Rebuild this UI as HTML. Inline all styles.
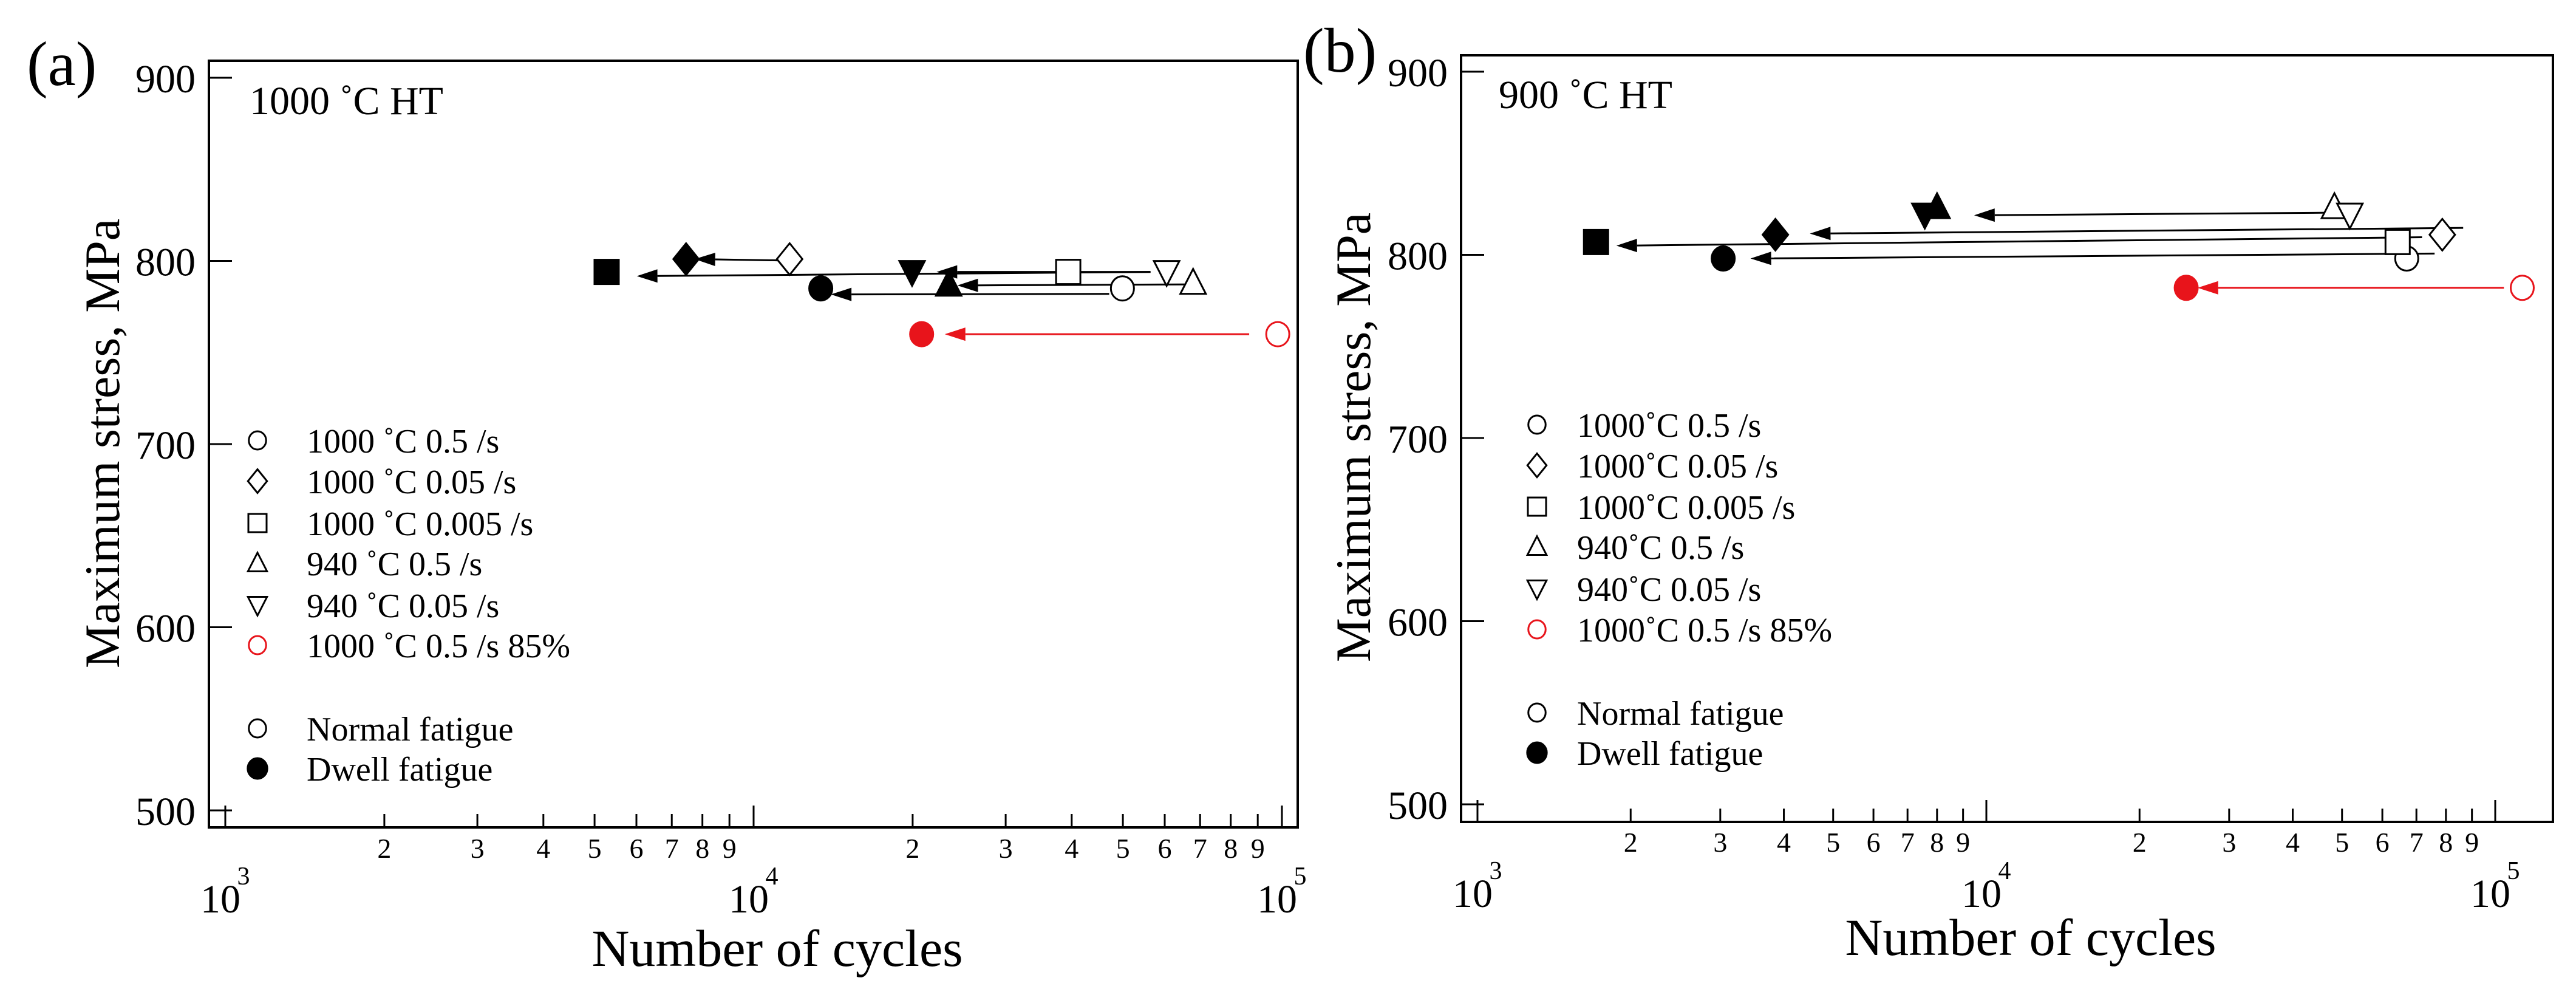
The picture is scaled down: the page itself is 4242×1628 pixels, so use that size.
<!DOCTYPE html>
<html><head><meta charset="utf-8"><style>
html,body{margin:0;padding:0;background:#fff;}
svg{display:block;font-family:"Liberation Serif","Times New Roman",serif;}
</style></head><body>
<svg id="fig" width="4242" height="1628" viewBox="0 0 4242 1628" xmlns="http://www.w3.org/2000/svg"></svg>
<script>
// ---- data (panel a: 1000 °C HT) ----
const seriesNames = ["1000C-0.5","1000C-0.05","1000C-0.005","940C-0.5","940C-0.05","1000C-0.5-85"];
const seriesShapes = ["circle","diamond","square","up","down","circle"];
const seriesColors = ["#000","#000","#000","#000","#000","#e8141b"];
const aNormalN = [49900, 11700, 39400, 67900, 60500, 98200];
const aNormalS = [785, 801, 794, 788, 794, 760];
const aDwellN = [13400, 7450, 5270, 23400, 19950, 20800];
const aDwellS = [785, 801, 794, 787, 794, 760];
const aArrowN1 = [47100, 11100, 56400, 67400, 56400, 86700];
const aArrowS1 = [782, 800.3, 794, 787.2, 794, 760];
const aArrowN2 = [14000, 7730, 6010, 24300, 22200, 23000];
const aArrowS2 = [781.7, 801, 791.7, 786.6, 794, 760];
// ---- data (panel b: 900 °C HT) ----
const bNormalN = [67000, 78700, 64300, 48300, 51800, 113000];
const bNormalS = [798, 811, 807, 826, 822, 782];
const bDwellN = [3040, 3850, 1710, 8000, 7570, 24700];
const bDwellS = [798, 811, 807, 826, 822, 782];
const bArrowN1 = [76000, 86500, 71800, 46900, 104000];
const bArrowS1 = [800.7, 814.7, 809.6, 823, 782];
const bArrowN2 = [3440, 4500, 1875, 9460, 26000];
const bArrowS2 = [798, 811.6, 805, 821.6, 782];
const bArrowColors = ["#000","#000","#000","#000","#e8141b"];
const yTicks = [500, 600, 700, 800, 900];
const xDecades = [3, 4, 5];
const minorDigits = [2,3,4,5,6,7,8,9];
const legendA = ["1000 ˚C 0.5 /s","1000 ˚C 0.05 /s","1000 ˚C 0.005 /s","940 ˚C 0.5 /s","940 ˚C 0.05 /s","1000 ˚C 0.5 /s 85%"];
const legendB = ["1000˚C 0.5 /s","1000˚C 0.05 /s","1000˚C 0.005 /s","940˚C 0.5 /s","940˚C 0.05 /s"," 1000˚C 0.5 /s 85%"];

const NS = "http://www.w3.org/2000/svg";
const svg = document.getElementById("fig");
function mk(tag, attrs, parent){
  const e = document.createElementNS(NS, tag);
  for (const k in attrs) e.setAttribute(k, attrs[k]);
  (parent||svg).appendChild(e);
  return e;
}
function txt(parent, x, y, s, size, anchor, fill){
  const t = mk("text", {x:x, y:y, "font-size":size, "text-anchor":anchor||"start", fill:fill||"#000"}, parent);
  t.textContent = s;
  return t;
}
function marker(g, shape, cx, cy, s, filled, color){
  const f = filled ? color : "#fff";
  const st = {fill:f, stroke:color, "stroke-width":3};
  let e;
  if (shape==="circle") e = mk("ellipse", Object.assign({cx:cx, cy:cy, rx:s*0.95, ry:s}, st), g);
  else if (shape==="square") e = mk("rect", Object.assign({x:cx-s, y:cy-s, width:2*s, height:2*s}, st), g);
  else if (shape==="diamond") e = mk("polygon", Object.assign({points:`${cx},${cy-s*1.3} ${cx+s*1.05},${cy} ${cx},${cy+s*1.3} ${cx-s*1.05},${cy}`}, st), g);
  else if (shape==="up") e = mk("polygon", Object.assign({points:`${cx},${cy-s*1.15} ${cx+s*1.05},${cy+s*0.9} ${cx-s*1.05},${cy+s*0.9}`}, st), g);
  else e = mk("polygon", Object.assign({points:`${cx},${cy+s*1.15} ${cx+s*1.05},${cy-s*0.9} ${cx-s*1.05},${cy-s*0.9}`}, st), g);
  return e;
}

function panel(cfg){
  const g = mk("g", {});
  
  
  const X = n => cfg.x0 + (Math.log10(n) - 3) * cfg.dec;
  const Y = v => cfg.y900 + (900 - v) * (cfg.y500 - cfg.y900) / 400;
  // frame
  const fr = mk("rect", {x:cfg.L, y:cfg.T, width:cfg.R-cfg.L, height:cfg.B-cfg.T, fill:"none", stroke:"#000", "stroke-width":4}, g);
  
  
  // y ticks
  yTicks.forEach(v => {
    const y = Y(v);
    const tk = mk("line", {x1:cfg.L, x2:cfg.L+38, y1:y, y2:y, stroke:"#000", "stroke-width":3}, g);
    
    
    const tl = txt(g, cfg.L-22, y+24, String(v), 66, "end");
    
    
  });
  // x ticks
  xDecades.forEach(d => {
    const x = X(Math.pow(10, d));
    const tk = mk("line", {x1:x, x2:x, y1:cfg.B, y2:cfg.B-36, stroke:"#000", "stroke-width":3}, g);
    
    
    const tl = txt(g, x-8, cfg.decBase, "10", 66, "middle");
    
    
    const sp = txt(g, x+30, cfg.decBase-46, String(d), 42, "middle");
    
    
    if (d < 5) minorDigits.forEach(m => {
      const xm = X(m * Math.pow(10, d));
      const mt = mk("line", {x1:xm, x2:xm, y1:cfg.B, y2:cfg.B-22, stroke:"#000", "stroke-width":3}, g);
      
      
      const ml = txt(g, xm, cfg.minBase, String(m), 46, "middle");
      
      
    });
  });
  // titles
  const xt = txt(g, cfg.xTitleX, cfg.xTitleY, "Number of cycles", 86, "middle");
  
  
  const yt = txt(g, 0, 0, "Maximum stress, MPa", 82, "middle");
  yt.setAttribute("transform", `translate(${cfg.yTitleX},${cfg.yTitleY}) rotate(-90)`);
  
  
  const pl = txt(g, cfg.labX, cfg.labY, cfg.label, 104, "start");
  
  
  const ht = txt(g, cfg.htX, cfg.htY, cfg.ht, 66, "start");
  
  
  // arrows
  for (let i=0;i<cfg.aN1.length;i++){
    const x1=X(cfg.aN1[i]), y1=Y(cfg.aS1[i]), x2=X(cfg.aN2[i]), y2=Y(cfg.aS2[i]);
    const col = cfg.aCol[i];
    const ang = Math.atan2(y2-y1, x2-x1);
    const hl = 34, hw = 11;
    const bx = x2 - hl*Math.cos(ang), by = y2 - hl*Math.sin(ang);
    const ln = mk("line", {x1:x1, y1:y1, x2:bx, y2:by, stroke:col, "stroke-width":3}, g);
    
    
    const px = -Math.sin(ang), py = Math.cos(ang);
    const hd = mk("polygon", {points:`${x2},${y2} ${bx+px*hw},${by+py*hw} ${bx-px*hw},${by-py*hw}`, fill:col}, g);
    
    
  }
  // points
  for (let i=0;i<seriesNames.length;i++){
    const o = marker(g, seriesShapes[i], X(cfg.nN[i]), Y(cfg.nS[i]), 20, false, seriesColors[i]);
    
    
    const f = marker(g, seriesShapes[i], X(cfg.dN[i]), Y(cfg.dS[i]), 20, true, seriesColors[i]);
    
    
  }
  // legend
  cfg.leg.forEach((s, i) => {
    const y = cfg.legY[i];
    const lm = marker(g, seriesShapes[i], cfg.legMX, y, 15, false, seriesColors[i]);
    
    
    const lt = txt(g, cfg.legTX + (i===5 && cfg.redShift ? cfg.redShift : 0), y+20, s, 56, "start");
    
    
  });
  const nm = marker(g, "circle", cfg.legMX, cfg.legY[6], 15, false, "#000");
  
  
  const nt = txt(g, cfg.legTX, cfg.legY[6]+20, "Normal fatigue", 56, "start");
  
  
  const dm = marker(g, "circle", cfg.legMX, cfg.legY[7], 17, true, "#000");
  
  
  const dt = txt(g, cfg.legTX, cfg.legY[7]+20, "Dwell fatigue", 56, "start");
  
  
}

panel({name:"panel-a", L:344, R:2137, T:100, B:1362, x0:371, dec:870, y900:128, y500:1334,
  decBase:1502, minBase:1412, xTitleX:1280, xTitleY:1590, yTitleX:196, yTitleY:730,
  label:"(a)", labX:44, labY:140, ht:"1000 ˚C HT", htX:411, htY:188,
  nN:aNormalN, nS:aNormalS, dN:aDwellN, dS:aDwellS,
  aN1:aArrowN1, aS1:aArrowS1, aN2:aArrowN2, aS2:aArrowS2, aCol:seriesColors,
  leg:legendA, legY:[725,792,861,927,996,1062,1199,1265], legMX:424, legTX:505});

panel({name:"panel-b", L:2406, R:4204, T:91, B:1353, x0:2433, dec:838, y900:118, y500:1324,
  decBase:1493, minBase:1402, xTitleX:3344, xTitleY:1572, yTitleX:2256, yTitleY:720,
  label:"(b)", labX:2146, labY:118, ht:"900 ˚C HT", htX:2468, htY:178,
  nN:bNormalN, nS:bNormalS, dN:bDwellN, dS:bDwellS,
  aN1:bArrowN1, aS1:bArrowS1, aN2:bArrowN2, aS2:bArrowS2, aCol:bArrowColors,
  leg:legendB, legY:[699,766,834,900,969,1036,1173,1239], legMX:2531, legTX:2597, redShift:0});
</script>
</body></html>
